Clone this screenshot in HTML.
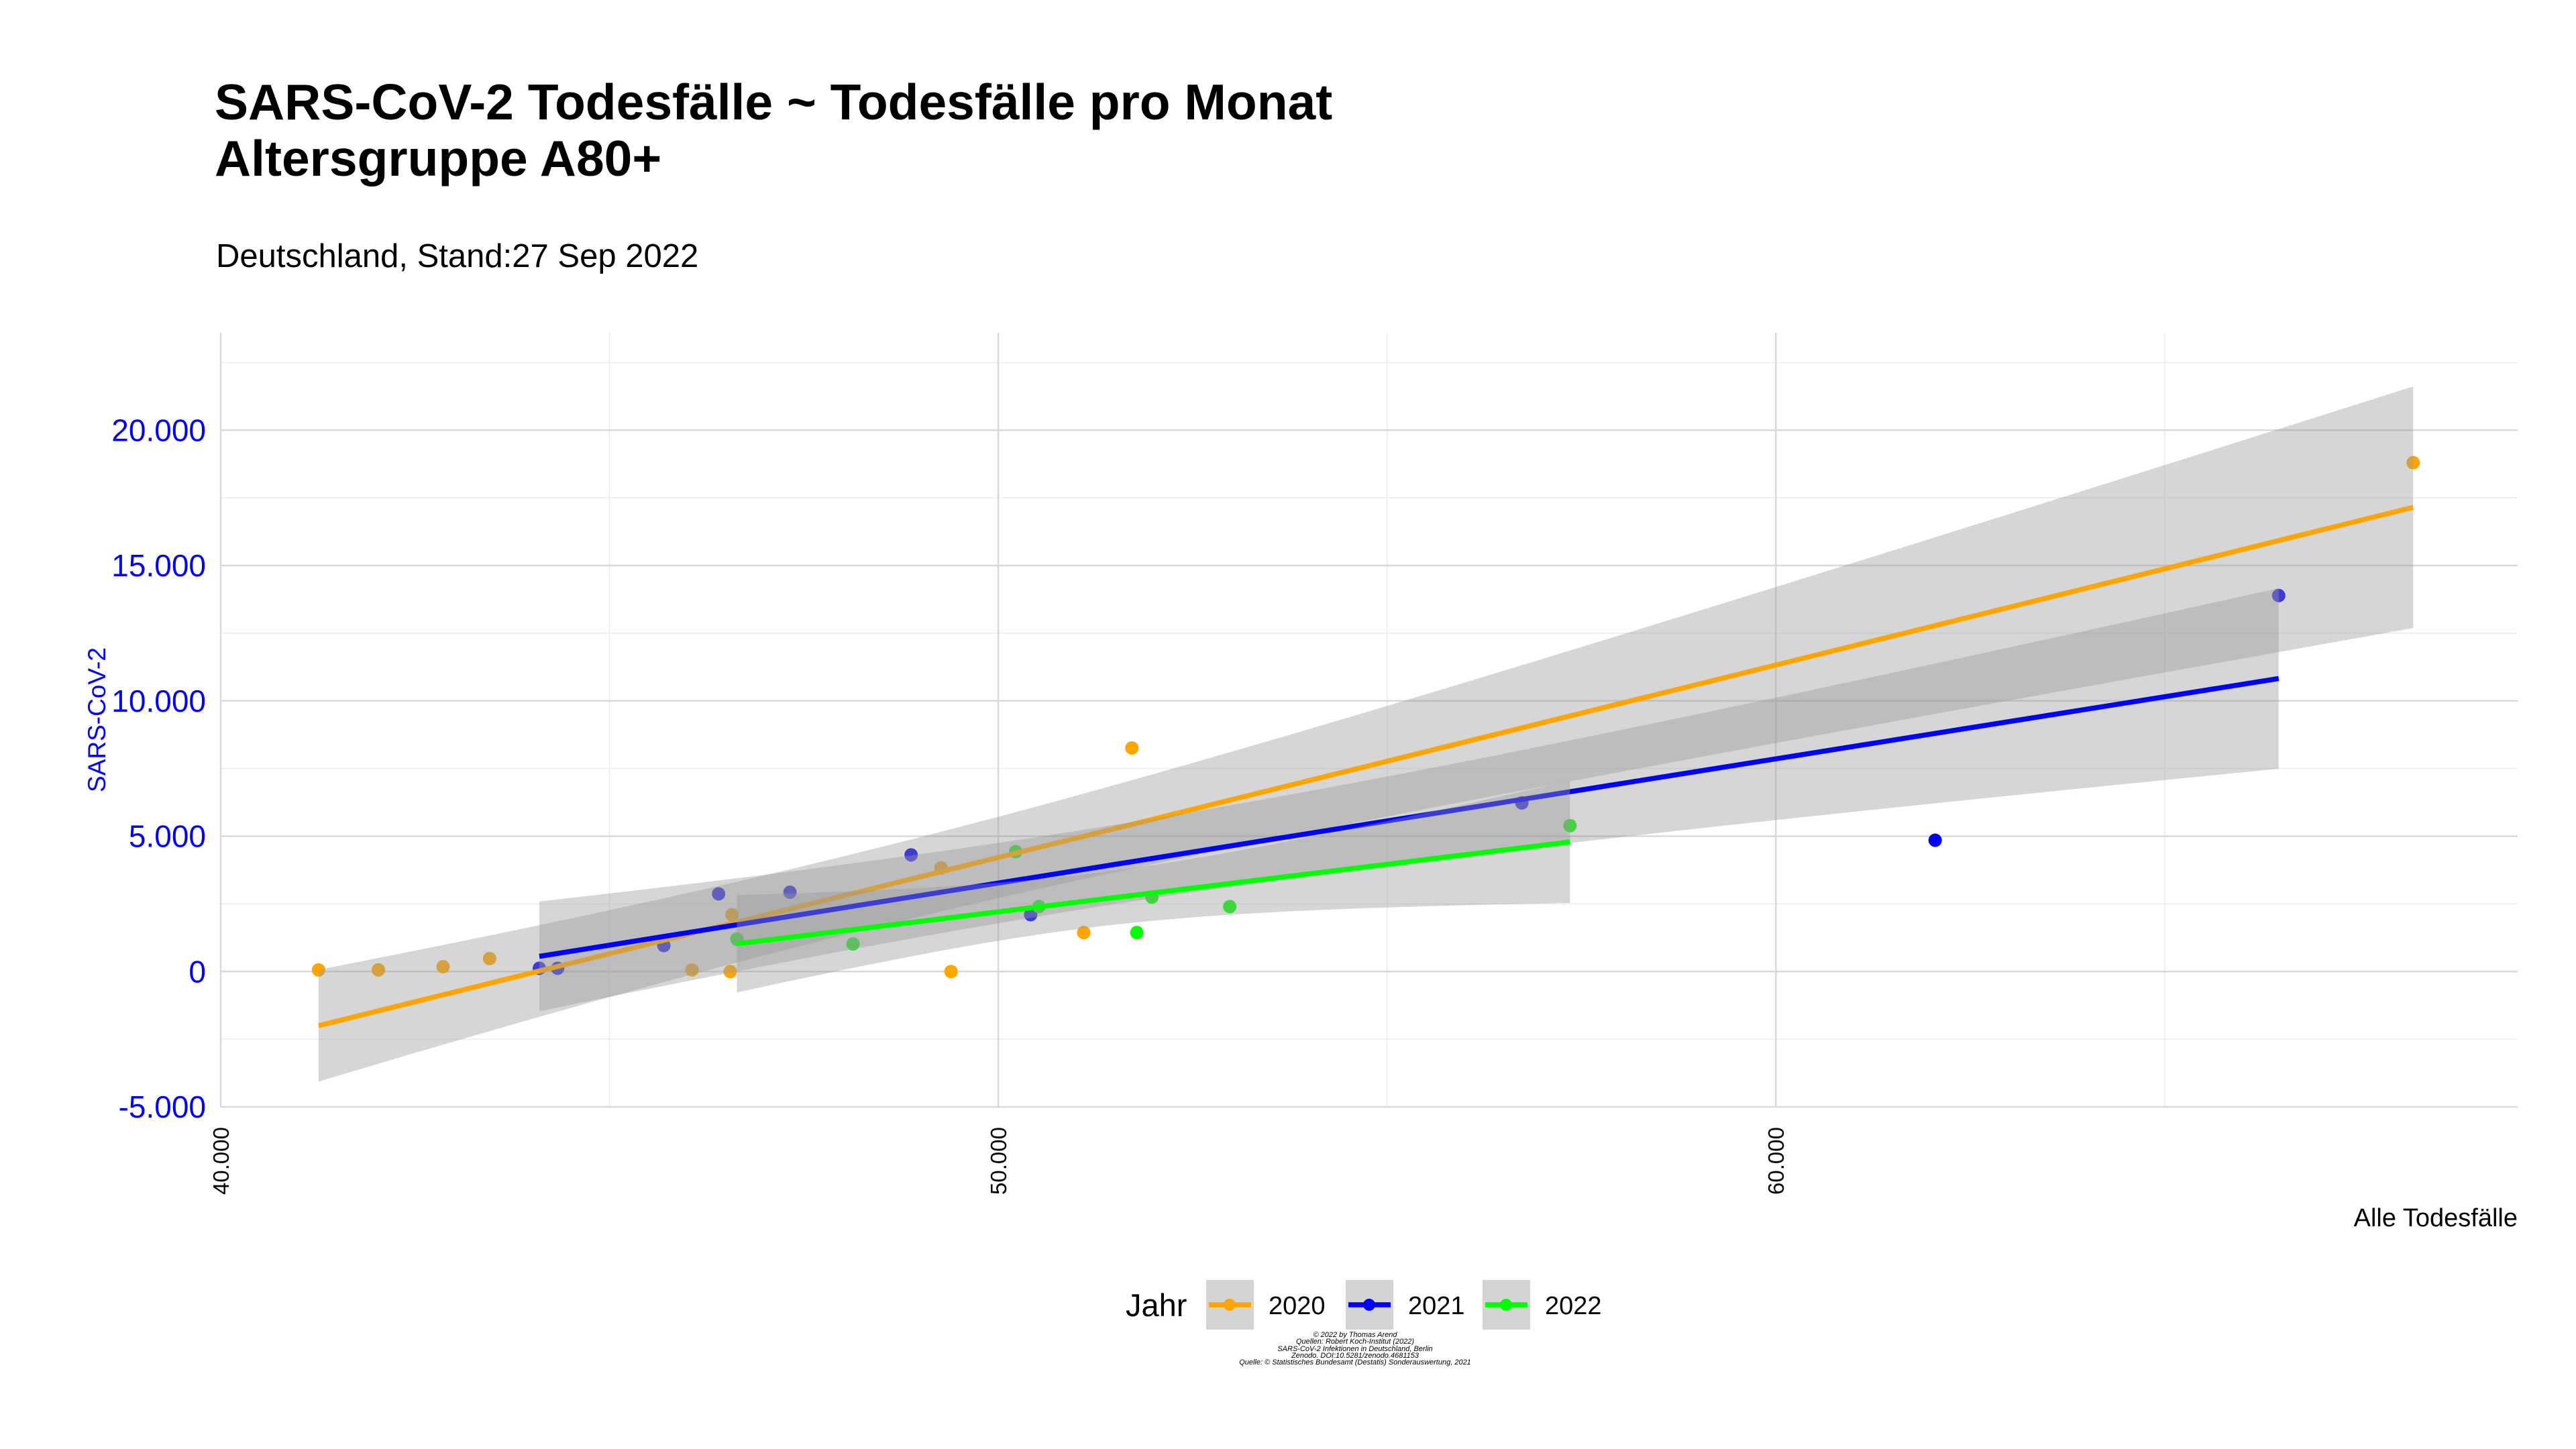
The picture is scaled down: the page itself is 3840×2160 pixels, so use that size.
<!DOCTYPE html>
<html><head><meta charset="utf-8"><style>
body{margin:0;background:#fff;}
svg{display:block;font-family:"Liberation Sans",sans-serif;}
</style></head><body>
<svg id="chart" width="3840" height="2160" viewBox="0 0 3840 2160" xmlns="http://www.w3.org/2000/svg">
<text x="320" y="178" font-size="75" font-weight="bold">SARS-CoV-2 Todesfälle ~ Todesfälle pro Monat</text>
<text x="320" y="262" font-size="75" font-weight="bold">Altersgruppe A80+</text>
<text x="322" y="398" font-size="49">Deutschland, Stand:27 Sep 2022</text>
<g id="grid"></g>
<g id="points"></g>
<g id="smooth"></g>
<g id="axes"></g>
<text transform="translate(157,1073) rotate(-90)" text-anchor="middle" font-size="37" fill="#0000ff">SARS-CoV-2</text>
<text x="3753" y="1828" text-anchor="end" font-size="38">Alle Todesfälle</text>
<g id="legend">
<text x="1678" y="1962" font-size="47">Jahr</text>
</g>
<g font-size="11" font-style="italic" text-anchor="middle">
<text x="2020" y="1993">© 2022 by Thomas Arend</text>
<text x="2020" y="2003">Quellen: Robert Koch-Institut (2022)</text>
<text x="2020" y="2014">SARS-CoV-2 Infektionen in Deutschland, Berlin</text>
<text x="2020" y="2024">Zenodo. DOI:10.5281/zenodo.4681153</text>
<text x="2020" y="2034">Quelle: © Statistisches Bundesamt (Destatis) Sonderauswertung, 2021</text>
</g>
</svg>
<script>
const years = ["2020","2021","2022"];
const colors = ["#FFA500","#0000FF","#00FF00"];
const x2020 = [41259,42028,42860,43458,46062,46553,46574,49264,49392,51099,51718,68196];
const y2020 = [60,60,180,480,60,0,2100,3830,0,1440,8260,18800];
const x2021 = [44098,44333,45699,46403,47321,48879,50416,56734,62049,66467];
const y2021 = [120,120,960,2870,2930,4310,2100,6230,4850,13890];
const x2022 = [46638,48132,50224,50523,51975,51782,52977,57353];
const y2022 = [1200,1020,4430,2400,2750,1440,2400,5390];
const xTicks = [40000,50000,60000];
const xTickLabels = ["40.000","50.000","60.000"];
const yTicks = [-5000,0,5000,10000,15000,20000];
const yTickLabels = ["-5.000","0","5.000","10.000","15.000","20.000"];

const NS="http://www.w3.org/2000/svg";
const L=329,R=3753,T=496,B=1650;
const X0=40000,X1=69540,Y0=-5000,Y1=23600;
const sx=v=>L+(v-X0)/(X1-X0)*(R-L);
const sy=v=>B-(v-Y0)/(Y1-Y0)*(B-T);
function mk(tag,attrs,parent){const e=document.createElementNS(NS,tag);for(const k in attrs)e.setAttribute(k,attrs[k]);parent.appendChild(e);return e;}
const grid=document.getElementById('grid');
for(let v=-2500;v<Y1;v+=5000){const l=mk('line',{x1:L,x2:R,y1:sy(v),y2:sy(v),stroke:'#ebebeb','stroke-width':1.5},grid);

}
for(let v=45000;v<X1;v+=10000){const l=mk('line',{x1:sx(v),x2:sx(v),y1:T,y2:B,stroke:'#ebebeb','stroke-width':1.5},grid);

}
yTicks.forEach(v=>{const l=mk('line',{x1:L,x2:R,y1:sy(v),y2:sy(v),stroke:'#d9d9d9','stroke-width':2.5},grid);

});
xTicks.concat([70000]).filter(v=>v<X1).forEach(v=>{const l=mk('line',{x1:sx(v),x2:sx(v),y1:T,y2:B,stroke:'#d9d9d9','stroke-width':2.5},grid);

});
const axes=document.getElementById('axes');
yTicks.forEach((v,i)=>{const t=mk('text',{x:307,y:sy(v)+16,'text-anchor':'end','font-size':46,fill:'#0000ff'},axes);t.textContent=yTickLabels[i];

});
xTicks.forEach((v,i)=>{const t=mk('text',{transform:`translate(${sx(v)+12},1680) rotate(-90)`,'text-anchor':'end','font-size':33},axes);t.textContent=xTickLabels[i];

});

const xs=[x2020,x2021,x2022], ys=[y2020,y2021,y2022];
const pts=document.getElementById('points');
xs.forEach((xa,g)=>xa.forEach((x,i)=>{const c=mk('circle',{cx:sx(x),cy:sy(ys[g][i]),r:10,fill:colors[g]},pts);

}));

const tq={10:2.228,8:2.306,6:2.447};
const sm=document.getElementById('smooth');
xs.forEach((xa,g)=>{const ya=ys[g],n=xa.length;
const mx=xa.reduce((a,b)=>a+b)/n,my=ya.reduce((a,b)=>a+b)/n;
let sxx=0,sxy=0;xa.forEach((x,i)=>{sxx+=(x-mx)**2;sxy+=(x-mx)*(ya[i]-my);});
const b=sxy/sxx,a=my-b*mx;let sse=0;xa.forEach((x,i)=>{sse+=(ya[i]-a-b*x)**2;});
const s=Math.sqrt(sse/(n-2)),t=tq[n-2]||2.2;
const xmin=Math.min(...xa),xmax=Math.max(...xa);const up=[],lo=[];
for(let k=0;k<=80;k++){const x=xmin+(xmax-xmin)*k/80,f=a+b*x,se=s*Math.sqrt(1/n+(x-mx)**2/sxx);
up.push(sx(x)+','+sy(f+t*se));lo.unshift(sx(x)+','+sy(f-t*se));}
const p=mk('polygon',{points:up.concat(lo).join(' '),fill:'#999999','fill-opacity':0.4},sm);


const l=mk('line',{x1:sx(xmin),y1:sy(a+b*xmin),x2:sx(xmax),y2:sy(a+b*xmax),stroke:colors[g],'stroke-width':7.5},sm);

});

const leg=document.getElementById('legend');
const kx=[1798,2006,2210];
years.forEach((y,i)=>{const gg=mk('g',{},leg);


mk('rect',{x:kx[i],y:1908,width:71,height:74,fill:'#d4d4d4'},gg);
mk('line',{x1:kx[i]+4,x2:kx[i]+67,y1:1945,y2:1945,stroke:colors[i],'stroke-width':7.5},gg);
mk('circle',{cx:kx[i]+35,cy:1945,r:9,fill:colors[i]},gg);
const t=mk('text',{x:kx[i]+93,y:1959,'font-size':38},gg);t.textContent=y;});
</script>
</body></html>
